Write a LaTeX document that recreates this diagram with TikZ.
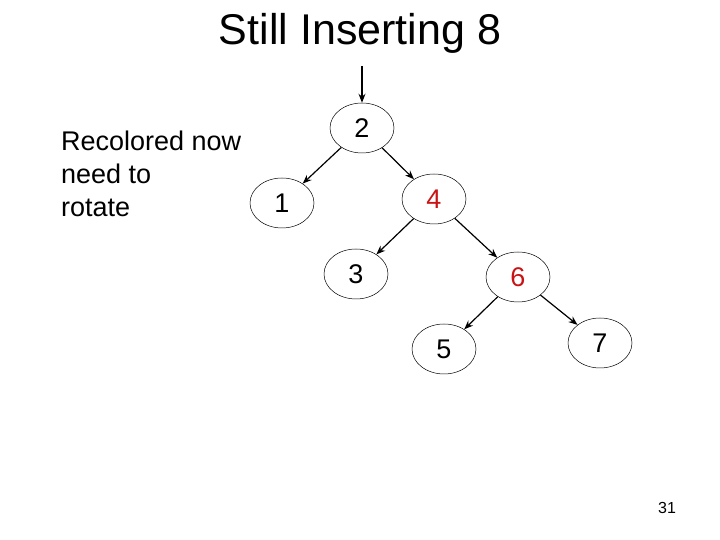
\documentclass[tikz,border=0pt]{standalone}
\usepackage{fontspec}
\setmainfont{Liberation Sans}
\usetikzlibrary{shapes.geometric,arrows.meta}
\begin{document}
\begin{tikzpicture}[x=1pt,y=1pt,
  tn/.style={ellipse,draw,line width=0.5pt,minimum width=64pt,minimum height=50pt,inner sep=0pt,font=\fontsize{27}{27}\selectfont},
  red/.style={text={rgb,255:red,200;green,20;blue,20}},
  ed/.style={-{Stealth[length=9pt,width=7pt]},line width=1.2pt}]
\useasboundingbox (0,0) rectangle (720,540);
\node (title) at (360,507) {\fontsize{43}{43}\selectfont Still Inserting 8};
\node[align=left,anchor=north west,inner sep=0pt,font=\fontsize{27}{33}\selectfont] (note) at (61,409) {Recolored now\\need to\\rotate};
\node[tn] (n2) at (362,412) {2};
\node[tn] (n1) at (282,337) {1};
\node[tn,red] (n4) at (434,341) {4};
\node[tn] (n3) at (356,266) {3};
\node[tn,red] (n6) at (518,263) {6};
\node[tn] (n5) at (444,191) {5};
\node[tn] (n7) at (600,197) {7};
\coordinate (top) at (362,474);
\draw[ed] (top) -- (n2);
\draw[ed] (n2) -- (n1);
\draw[ed] (n2) -- (n4);
\draw[ed] (n4) -- (n3);
\draw[ed] (n4) -- (n6);
\draw[ed] (n6) -- (n5);
\draw[ed] (n6) -- (n7);
\node (pg) at (667,32) {\fontsize{16}{16}\selectfont 31};
\end{tikzpicture}
\end{document}
